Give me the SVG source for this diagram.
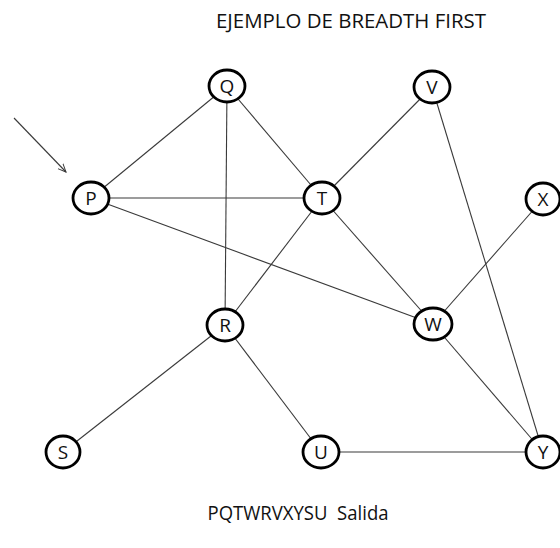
<svg xmlns="http://www.w3.org/2000/svg" width="560" height="548" viewBox="0 0 560 548">
  <style>
    .edge { stroke: #3a3a3a; stroke-width: 1.1; fill: none; }
    .node ellipse { fill: #ffffff; stroke: #000000; stroke-width: 2.8; }
    .node text { font-family: "Open Sans", "Liberation Sans", sans-serif; font-size: 19px; fill: #111111; text-anchor: middle; dominant-baseline: central; }
    .caption { font-family: "Open Sans", "Liberation Sans", sans-serif; font-size: 19.5px; fill: #111111; text-anchor: middle; }
  </style>
  <defs>
    <marker id="open-arrow" viewBox="0 0 10 10" refX="9" refY="5" markerWidth="9" markerHeight="9" orient="auto" markerUnits="userSpaceOnUse">
      <path d="M0,1 L9,5 L0,9" fill="none" stroke="#3a3a3a" stroke-width="1.1"/>
    </marker>
  </defs>

  <rect width="560" height="548" fill="#ffffff"/>

  <text class="caption" x="351" y="28" textLength="270" lengthAdjust="spacingAndGlyphs">EJEMPLO DE BREADTH FIRST</text>
  <text class="caption" x="298" y="520" xml:space="preserve" textLength="181" lengthAdjust="spacingAndGlyphs">PQTWRVXYSU  Salida</text>

  <!-- start pointer -->
  <line x1="14" y1="118" x2="66" y2="172" class="edge" marker-end="url(#open-arrow)"/>

  <g id="connectors">
    <line class="edge" x1="91" y1="198" x2="227" y2="86"/>   <!-- P-Q -->
    <line class="edge" x1="91" y1="198" x2="322" y2="198"/>  <!-- P-T -->
    <line class="edge" x1="91" y1="198" x2="433" y2="324"/>  <!-- P-W -->
    <line class="edge" x1="227" y1="86" x2="322" y2="198"/>  <!-- Q-T -->
    <line class="edge" x1="227" y1="86" x2="225" y2="325"/>  <!-- Q-R -->
    <line class="edge" x1="322" y1="198" x2="432" y2="87"/>  <!-- T-V -->
    <line class="edge" x1="322" y1="198" x2="225" y2="325"/> <!-- T-R -->
    <line class="edge" x1="322" y1="198" x2="433" y2="324"/> <!-- T-W -->
    <line class="edge" x1="432" y1="87" x2="543" y2="452"/>  <!-- V-Y -->
    <line class="edge" x1="543" y1="199" x2="433" y2="324"/> <!-- X-W -->
    <line class="edge" x1="225" y1="325" x2="63" y2="452"/>  <!-- R-S -->
    <line class="edge" x1="225" y1="325" x2="321" y2="452"/> <!-- R-U -->
    <line class="edge" x1="433" y1="324" x2="543" y2="452"/> <!-- W-Y -->
    <line class="edge" x1="321" y1="452" x2="543" y2="452"/> <!-- U-Y -->
  </g>

  <g id="node-P" class="node"><ellipse cx="91" cy="198" rx="18" ry="16"/><text x="91" y="198">P</text></g>
  <g id="node-Q" class="node"><ellipse cx="227" cy="86" rx="18" ry="16"/><text x="227" y="86">Q</text></g>
  <g id="node-V" class="node"><ellipse cx="432" cy="87" rx="18" ry="16"/><text x="432" y="87">V</text></g>
  <g id="node-T" class="node"><ellipse cx="322" cy="198" rx="18" ry="16"/><text x="322" y="198">T</text></g>
  <g id="node-X" class="node"><ellipse cx="543" cy="199" rx="17" ry="16"/><text x="543" y="199">X</text></g>
  <g id="node-R" class="node"><ellipse cx="225" cy="325" rx="18" ry="16"/><text x="225" y="325">R</text></g>
  <g id="node-W" class="node"><ellipse cx="433" cy="324" rx="19" ry="16"/><text x="433" y="324">W</text></g>
  <g id="node-S" class="node"><ellipse cx="63" cy="452" rx="17" ry="16"/><text x="63" y="452">S</text></g>
  <g id="node-U" class="node"><ellipse cx="321" cy="452" rx="18" ry="16"/><text x="321" y="452">U</text></g>
  <g id="node-Y" class="node"><ellipse cx="543" cy="452" rx="17" ry="16"/><text x="543" y="452">Y</text></g>
</svg>
